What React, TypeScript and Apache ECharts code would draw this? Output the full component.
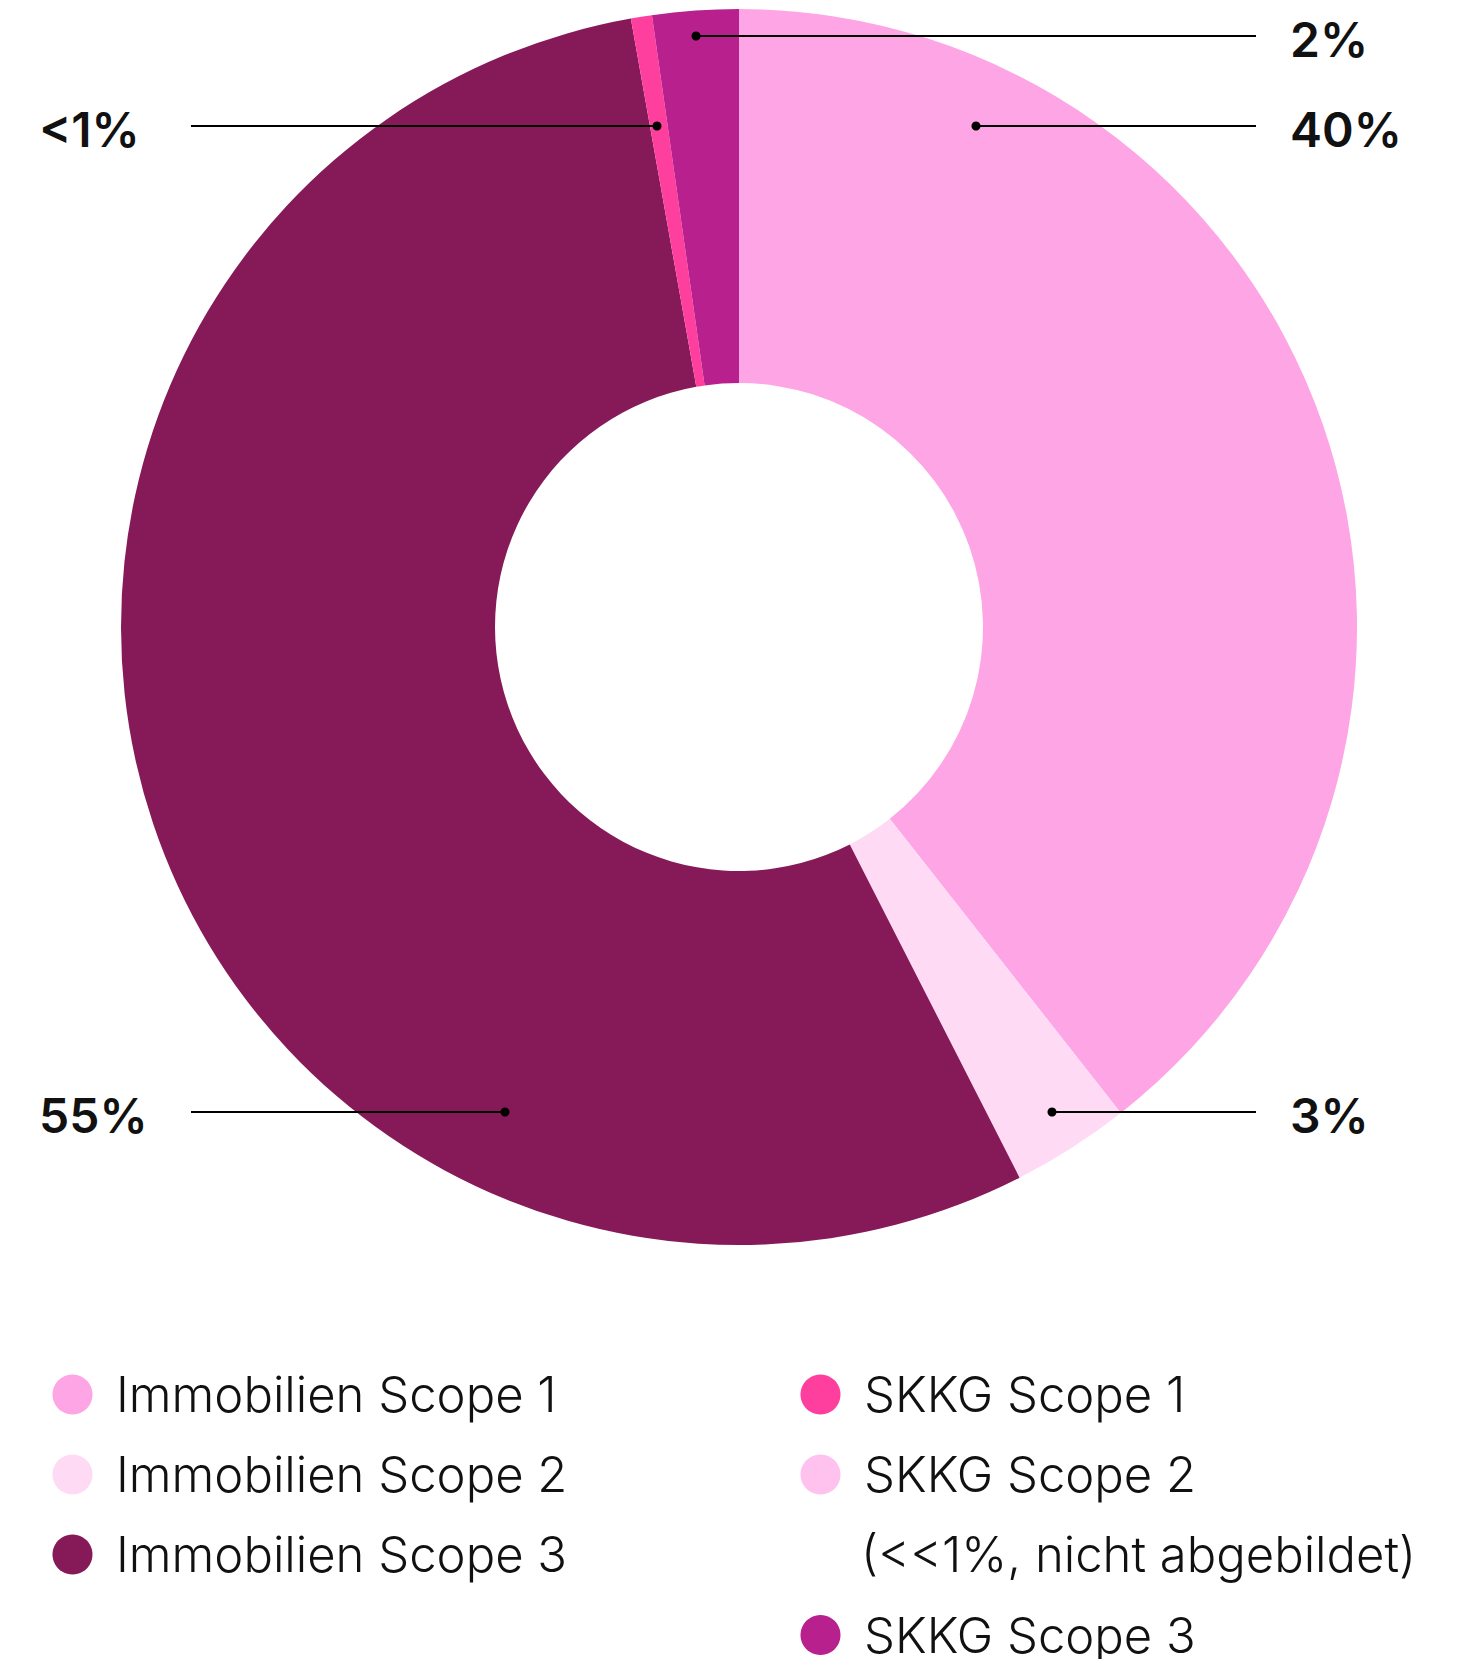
import React, { useEffect, useRef } from "react";
import * as echarts from "echarts";

// ---- data ----
const categories = [
  "Immobilien Scope 1",
  "Immobilien Scope 2",
  "Immobilien Scope 3",
  "SKKG Scope 1",
  "SKKG Scope 2",
  "SKKG Scope 3",
];
const values = [39.4, 3.1, 54.7, 0.55, 0, 2.25];
const valueLabels = ["40%", "3%", "55%", "<1%", "", "2%"];
const legendNote = "(<<1%, nicht abgebildet)";

// ---- styles / layout ----
const colors = ["#FEA5E6", "#FFDAF4", "#861A59", "#FF3F9D", "#FFC2EF", "#B8208E"];
const labelAnchors: (number[] | null)[] = [
  [976, 126],
  [1052, 1112],
  [505, 1112],
  [657, 126],
  null,
  [696, 36],
];
const labelSides = ["right", "right", "left", "left", "", "right"];
const LEFT_END = 191;
const RIGHT_END = 1256;
const LEFT_TEXT = 39;
const RIGHT_TEXT = 1290;
const FONT = "Inter, 'Noto Sans', sans-serif";
const LEGEND_FONT_SIZE = 49;

export default function App() {
  const ref = useRef<HTMLDivElement>(null);

  useEffect(() => {
    if (!ref.current) return;
    const chart = echarts.init(ref.current, undefined, { renderer: "svg" });

    const legendText = {
      fontFamily: FONT,
      fontWeight: 300,
      fontSize: LEGEND_FONT_SIZE,
      color: "#111111",
    };
    const legendBase = {
      orient: "vertical",
      itemWidth: 77,
      itemHeight: 40,
      itemGap: 80 - LEGEND_FONT_SIZE,
      icon: "circle",
      selectedMode: false,
      textStyle: legendText,
      padding: 0,
    };

    const guides: any[] = [];
    labelAnchors.forEach((a, i) => {
      if (!a) return;
      const right = labelSides[i] === "right";
      const end = right ? RIGHT_END : LEFT_END;
      guides.push({
        type: "line",
        z: 100,
        silent: true,
        shape: { x1: a[0], y1: a[1], x2: end, y2: a[1] },
        style: { stroke: "#000000", lineWidth: 2 },
      });
      guides.push({
        type: "circle",
        z: 101,
        silent: true,
        shape: { cx: a[0], cy: a[1], r: 4.5 },
        style: { fill: "#000000" },
      });
    });

    chart.setOption({
      animation: false,
      color: colors,
      legend: [
        { ...legendBase, data: categories.slice(0, 3), left: 52.5, top: 1370 },
        { ...legendBase, data: [categories[3], categories[4]], left: 800.5, top: 1370 },
        { ...legendBase, data: [categories[5]], left: 800.5, top: 1610.5 },
      ],
      graphic: [
        ...guides,
        {
          type: "text",
          left: 861,
          top: 1529.5,
          style: {
            text: legendNote,
            font: `300 ${LEGEND_FONT_SIZE}px ${FONT}`,
            fill: "#111111",
          },
        },
      ],
      series: [
        {
          type: "pie",
          center: [739, 627],
          radius: [244, 618],
          startAngle: 90,
          clockwise: true,
          avoidLabelOverlap: false,
          silent: true,
          emphasis: { disabled: true },
          data: categories.map((name, i) => ({
            name,
            value: values[i],
            itemStyle: { color: colors[i] },
            label: { show: valueLabels[i] !== "" },
          })),
          label: {
            show: true,
            position: "outside",
            width: 200,
            formatter: (p: any) => valueLabels[p.dataIndex],
            fontFamily: FONT,
            fontWeight: 600,
            fontSize: 48,
            color: "#111111",
          },
          labelLine: { show: false },
          labelLayout: (params: any) => {
            const i = params.dataIndex;
            const a = labelAnchors[i];
            if (!a) return {};
            const right = labelSides[i] === "right";
            return {
              x: right ? RIGHT_TEXT : LEFT_TEXT,
              y: a[1] + 3,
              align: "left",
              verticalAlign: "middle",
              width: 200,
            };
          },
        },
      ],
    });

    return () => chart.dispose();
  }, []);

  return (
    <div
      ref={ref}
      style={{ position: "absolute", left: 0, top: 0, width: 1465, height: 1659 }}
    />
  );
}
